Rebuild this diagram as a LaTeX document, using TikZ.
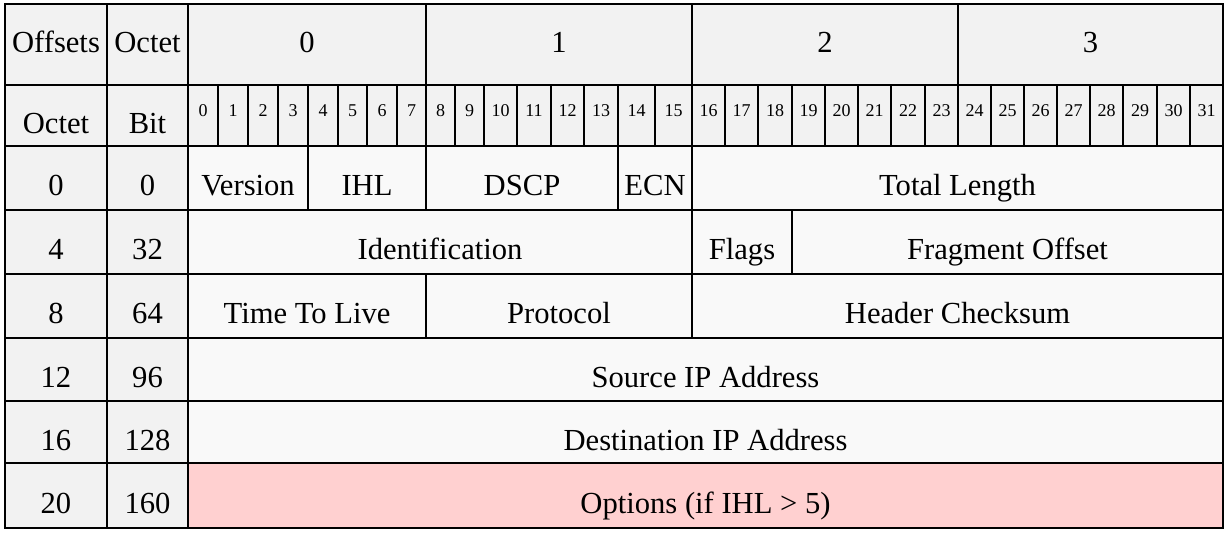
\documentclass[tikz,border=0pt]{standalone}
\usepackage{fontspec}
\setmainfont{Liberation Serif}
\definecolor{hdr}{HTML}{F2F2F2}
\definecolor{dat}{HTML}{F9F9F9}
\definecolor{opt}{HTML}{FFD0D0}
\tikzset{
  grid/.style={draw=black,line width=2pt},
  lbl/.style={anchor=base,inner sep=0pt,font=\fontsize{30.6}{32}\selectfont},
  bitlbl/.style={anchor=base,inner sep=0pt,font=\fontsize{18}{19}\selectfont},
}
% name, x1, x2, y1, y2, fill, text
\newcommand\fld[7]{%
  \filldraw[grid,fill=#6] (#2,#4) rectangle (#3,#5);
  \node[lbl] (#1) at ({(#2+#3)/2},{(#4+#5)/2+18}) {#7};}
% name, x1, x2, text
\newcommand\bitcell[4]{%
  \filldraw[grid,fill=hdr] (#2,85) rectangle (#3,146);
  \node[bitlbl] (#1) at ({(#2+#3)/2},117) {#4};}
% name, x1, x2, text
\newcommand\topcell[4]{%
  \filldraw[grid,fill=hdr] (#2,4) rectangle (#3,85);
  \node[lbl] (#1) at ({(#2+#3)/2},53) {#4};}
\begin{document}
\begin{tikzpicture}[x=1pt,y=-1pt]
\useasboundingbox (0,0) rectangle (1229,534);
% top header row
\topcell{hoff}{5}{107}{Offsets}
\topcell{hoct}{107}{188}{Octet}
\topcell{byte0}{188}{426}{0}
\topcell{byte1}{426}{692}{1}
\topcell{byte2}{692}{958}{2}
\topcell{byte3}{958}{1223}{3}
% bit row
\fld{soct}{5}{107}{85}{146}{hdr}{Octet}
\fld{sbit}{107}{188}{85}{146}{hdr}{Bit}
\bitcell{b0}{188}{218}{0}
\bitcell{b1}{218}{248}{1}
\bitcell{b2}{248}{278}{2}
\bitcell{b3}{278}{308}{3}
\bitcell{b4}{308}{338}{4}
\bitcell{b5}{338}{367}{5}
\bitcell{b6}{367}{397}{6}
\bitcell{b7}{397}{426}{7}
\bitcell{b8}{426}{455}{8}
\bitcell{b9}{455}{484}{9}
\bitcell{b10}{484}{517}{10}
\bitcell{b11}{517}{551}{11}
\bitcell{b12}{551}{584}{12}
\bitcell{b13}{584}{618}{13}
\bitcell{b14}{618}{655}{14}
\bitcell{b15}{655}{692}{15}
\bitcell{b16}{692}{725}{16}
\bitcell{b17}{725}{758}{17}
\bitcell{b18}{758}{792}{18}
\bitcell{b19}{792}{825}{19}
\bitcell{b20}{825}{858}{20}
\bitcell{b21}{858}{891}{21}
\bitcell{b22}{891}{925}{22}
\bitcell{b23}{925}{958}{23}
\bitcell{b24}{958}{991}{24}
\bitcell{b25}{991}{1024}{25}
\bitcell{b26}{1024}{1057}{26}
\bitcell{b27}{1057}{1090}{27}
\bitcell{b28}{1090}{1123}{28}
\bitcell{b29}{1123}{1157}{29}
\bitcell{b30}{1157}{1190}{30}
\bitcell{b31}{1190}{1223}{31}
% row 0
\fld{o0}{5}{107}{146}{210}{hdr}{0}
\fld{t0}{107}{188}{146}{210}{hdr}{0}
\fld{version}{188}{308}{146}{210}{dat}{Version}
\fld{ihl}{308}{426}{146}{210}{dat}{IHL}
\fld{dscp}{426}{618}{146}{210}{dat}{DSCP}
\fld{ecn}{618}{692}{146}{210}{dat}{ECN}
\fld{totlen}{692}{1223}{146}{210}{dat}{Total Length}
% row 1
\fld{o4}{5}{107}{210}{274}{hdr}{4}
\fld{t32}{107}{188}{210}{274}{hdr}{32}
\fld{ident}{188}{692}{210}{274}{dat}{Identification}
\fld{flags}{692}{792}{210}{274}{dat}{Flags}
\fld{fragoff}{792}{1223}{210}{274}{dat}{Fragment Offset}
% row 2
\fld{o8}{5}{107}{274}{338}{hdr}{8}
\fld{t64}{107}{188}{274}{338}{hdr}{64}
\fld{ttl}{188}{426}{274}{338}{dat}{Time To Live}
\fld{proto}{426}{692}{274}{338}{dat}{Protocol}
\fld{cksum}{692}{1223}{274}{338}{dat}{Header Checksum}
% row 3
\fld{o12}{5}{107}{338}{401}{hdr}{12}
\fld{t96}{107}{188}{338}{401}{hdr}{96}
\fld{src}{188}{1223}{338}{401}{dat}{Source IP Address}
% row 4
\fld{o16}{5}{107}{401}{463}{hdr}{16}
\fld{t128}{107}{188}{401}{463}{hdr}{128}
\fld{dst}{188}{1223}{401}{463}{dat}{Destination IP Address}
% row 5
\fld{o20}{5}{107}{463}{528}{hdr}{20}
\fld{t160}{107}{188}{463}{528}{hdr}{160}
\fld{opts}{188}{1223}{463}{528}{opt}{Options (if IHL > 5)}
\end{tikzpicture}
\end{document}
